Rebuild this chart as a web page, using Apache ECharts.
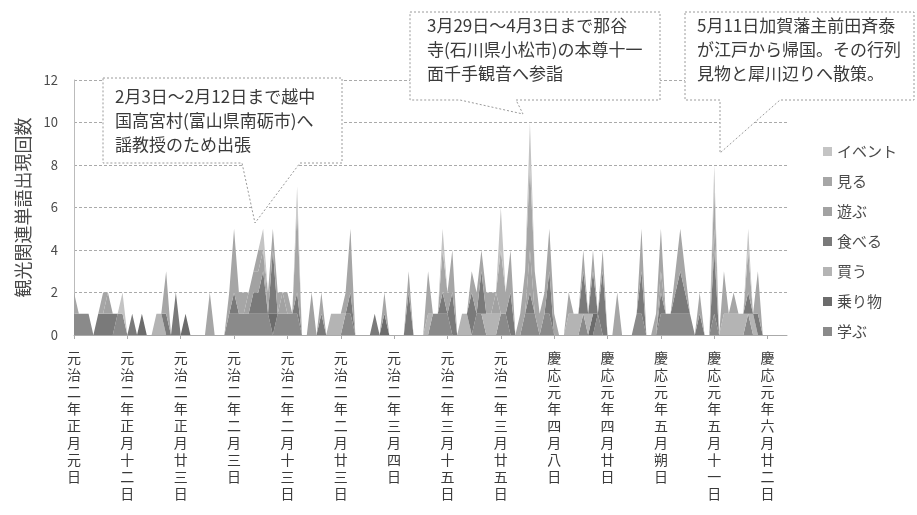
<!DOCTYPE html>
<html>
<head>
<meta charset="utf-8">
<script src="https://cdn.jsdelivr.net/npm/echarts@6/dist/echarts.min.js"></script>
<style>
html,body{margin:0;padding:0;background:#fff;}
#chart{width:917px;height:515px;}
</style>
</head>
<body>
<div id="chart"></div>
<script>
// ---- data ----
const tickLabels = ['元治二年正月元日','元治二年正月十二日','元治二年正月廿三日','元治二年二月三日','元治二年二月十三日','元治二年二月廿三日','元治二年三月四日','元治二年三月十五日','元治二年三月廿五日','慶応元年四月八日','慶応元年四月廿日','慶応元年五月朔日','慶応元年五月十一日','慶応元年六月廿二日'];
const tickStep = 11;
const dayCount = 148;
const categories = Array.from({length: dayCount}, (_, i) => (i % tickStep === 0 && tickLabels[i / tickStep]) ? tickLabels[i / tickStep] : ('第' + (i + 1) + '日'));

const yTicks = [0, 2, 4, 6, 8, 10, 12];
const legendOrder = ['イベント','見る','遊ぶ','食べる','買う','乗り物','学ぶ'];

const manabu = [1,1,1,1,0,0,0,0,0,1, 1,0,0,0,0,0,0,0,0,0, 0,0,0,0,0,0,0,0,0,0, 0,0,1,1,1,1,1,1,1,1,
 1,0,1,1,1,1,1,0,0,0, 0,0,0,0,0,0,1,1,0,0, 0,0,0,0,0,0,0,0,0,0, 0,0,0,0,1,1,1,1,0,0,
 0,0,0,1,1,0,0,0,1,1, 0,0,0,1,1,1,0,1,1,0, 0,0,0,0,0,1,0,0,1,0, 0,0,0,0,0,0,1,1,0,0,
 0,1,1,1,1,1,1,1,0,0, 0,0,1,0,0,0,0,0,0,1, 0,0,0,0,0,0,0,0];
const norimono = [0,0,0,0,0,0,0,0,0,0, 0,0,0,0,1,0,0,0,0,0, 0,0,0,1,0,0,0,0,0,0, 0,0,0,0,0,0,0,0,0,0,
 0,1,0,0,0,0,0,0,0,0, 0,0,0,0,0,0,0,0,0,0, 0,0,0,0,1,0,0,0,0,0, 0,0,0,0,0,0,0,0,0,0,
 0,0,0,0,0,0,0,0,0,0, 0,0,0,0,0,0,0,0,0,0, 0,0,0,0,0,0,0,1,0,0, 0,0,0,0,0,0,0,0,0,0,
 0,0,0,0,0,0,0,0,0,0, 0,0,0,0,0,0,0,0,0,0, 0,0,0,0,0,0,0,0];
const kau = [0,0,0,0,0,0,0,0,0,0, 0,0,0,0,0,0,0,1,1,0, 0,0,0,0,0,0,0,0,0,0, 0,0,0,0,0,0,0,0,0,0,
 0,0,0,0,0,0,0,0,0,0, 0,0,0,1,1,1,0,0,0,0, 0,0,0,0,0,0,0,0,0,0, 0,0,0,1,0,0,0,0,0,0,
 1,1,0,0,0,1,1,1,0,0, 0,0,0,0,0,0,0,0,0,0, 0,0,1,1,1,0,1,0,0,0, 0,0,0,0,0,0,0,0,0,0,
 0,0,0,0,0,0,0,0,0,0, 0,0,0,0,1,1,1,1,1,0, 1,0,0,0,0,0,0,0];
const taberu = [0,0,0,0,0,1,1,1,1,0, 0,0,1,0,0,0,0,0,0,1, 0,2,0,0,0,0,0,0,0,0, 0,0,0,1,0,0,0,1,1,2,
 0,3,0,0,0,0,1,0,0,0, 0,1,0,0,0,0,0,1,0,0, 0,0,1,0,0,0,0,0,0,2, 0,0,0,0,0,0,1,0,2,0,
 0,0,2,0,2,0,0,0,0,0, 2,0,0,0,1,0,0,0,2,0, 0,0,0,0,0,2,0,2,0,3, 0,0,0,0,0,0,0,2,0,0,
 0,1,0,0,1,2,1,0,0,1, 0,0,3,0,0,0,0,0,0,1, 0,1,0,0,0,0,0,0];
const asobu = [0,0,0,0,0,0,0,1,0,0, 0,0,0,0,0,0,0,0,0,0, 0,0,0,0,0,0,0,0,0,0, 0,0,0,0,0,0,1,1,1,1,
 0,0,0,1,0,0,0,0,0,2, 0,0,0,0,0,0,0,0,0,0, 0,0,0,0,0,0,0,0,0,0, 0,0,0,0,0,0,0,1,0,0,
 0,0,0,0,0,0,0,1,0,0, 0,0,0,0,2,0,0,0,0,0, 0,0,0,0,0,0,0,0,0,0, 0,0,0,0,0,0,0,0,0,0,
 0,1,0,0,0,0,0,0,0,0, 0,0,1,0,0,0,0,0,0,0, 0,0,0,0,0,0,0,0];
const miru = [1,0,0,0,0,0,1,0,0,0, 0,0,0,0,0,0,0,0,0,2, 0,0,0,0,0,0,0,0,2,0, 0,0,1,3,1,1,0,0,1,0,
 1,1,1,0,1,0,4,0,0,0, 0,1,0,0,0,0,1,3,0,0, 0,0,0,0,1,0,0,0,0,1, 0,0,0,2,0,0,2,0,2,0,
 0,0,1,1,1,1,1,0,3,1, 2,0,1,2,4,2,1,1,2,1, 0,0,1,0,0,1,0,1,0,1, 0,0,2,0,0,0,0,2,0,0,
 1,2,0,0,1,2,1,0,0,1, 0,0,2,0,2,0,1,0,0,2, 0,2,0,0,0,0,0,0];
const event = [0,0,0,0,0,0,0,0,0,0, 1,0,0,0,0,0,0,0,0,0, 0,0,0,0,0,0,0,0,0,0, 0,0,0,0,0,0,0,0,0,1,
 0,0,0,0,0,0,1,0,0,0, 0,0,0,0,0,0,0,0,0,0, 0,0,0,0,0,0,0,0,0,0, 0,0,0,0,0,0,1,0,0,0,
 0,0,0,0,0,0,0,0,2,0, 0,0,0,0,2,0,0,0,0,0, 0,0,0,0,0,0,0,0,0,0, 0,0,0,0,0,0,0,0,0,0,
 0,0,0,0,0,0,0,0,0,0, 0,0,1,0,0,0,0,0,0,1, 0,0,0,0,0,0,0,0];

const callouts = [
  {text: '2月3日～2月12日まで越中\n国高宮村(富山県南砺市)へ\n謡教授のため出張'},
  {text: '3月29日～4月3日まで那谷\n寺(石川県小松市)の本尊十一\n面千手観音へ参詣'},
  {text: '5月11日加賀藩主前田斉泰\nが江戸から帰国。その行列\n見物と犀川辺りへ散策。'}
];

// ---- chart ----
const FONT = '"Noto Sans CJK JP", "Noto Sans", sans-serif';
const stackOrder = [
  {name: '学ぶ', data: manabu, color: '#8a8a8a'},
  {name: '乗り物', data: norimono, color: '#6c6c6c'},
  {name: '買う', data: kau, color: '#b4b4b4'},
  {name: '食べる', data: taberu, color: '#7a7a7a'},
  {name: '遊ぶ', data: asobu, color: '#a2a2a2'},
  {name: '見る', data: miru, color: '#a6a6a6'},
  {name: 'イベント', data: event, color: '#c4c4c4'}
];

const chart = echarts.init(document.getElementById('chart'), null, {renderer: 'canvas'});

const boxStyle = {fill: '#ffffff', stroke: '#9a9a9a', lineWidth: 1, lineDash: [2, 2]};
const textStyle = (t) => ({text: t, font: '17px ' + FONT, fill: '#3a3a3a', lineHeight: 24});

chart.setOption({
  animation: false,
  backgroundColor: '#ffffff',
  grid: {left: 74, right: 130, top: 80, bottom: 180, containLabel: false},
  legend: {
    orient: 'vertical', left: 818, top: 138,
    data: legendOrder, icon: 'rect', itemWidth: 9, itemHeight: 9, itemGap: 13,
    textStyle: {fontSize: 15, lineHeight: 17, color: '#4a4a4a', fontFamily: FONT}
  },
  xAxis: {
    type: 'category', boundaryGap: false, data: categories,
    axisLine: {lineStyle: {color: '#aaaaaa'}},
    axisTick: {show: true, interval: tickStep - 1, length: 4, lineStyle: {color: '#aaaaaa'}},
    axisLabel: {
      interval: tickStep - 1, margin: 14, fontSize: 14, lineHeight: 17, color: '#3a3a3a', fontFamily: FONT,
      formatter: (v, i) => (i % tickStep === 0 && tickLabels[i / tickStep]) ? tickLabels[i / tickStep].split('').join('\n') : ''
    },
    splitLine: {show: false}
  },
  yAxis: {
    type: 'value', min: yTicks[0], max: yTicks[yTicks.length - 1], interval: yTicks[1] - yTicks[0],
    name: '観光関連単語出現回数', nameLocation: 'middle', nameRotate: 90, nameGap: 42,
    nameTextStyle: {fontSize: 18, color: '#4a4a4a', fontFamily: FONT},
    axisLine: {show: true, lineStyle: {color: '#bbbbbb'}},
    axisTick: {show: false},
    axisLabel: {fontSize: 13, color: '#4a4a4a', margin: 16, fontFamily: FONT},
    splitLine: {lineStyle: {color: '#aaaaaa', type: [3, 2]}}
  },
  series: stackOrder.map(s => ({
    name: s.name, type: 'line', stack: 'total', data: s.data,
    symbol: 'none', showSymbol: false,
    lineStyle: {width: 0},
    itemStyle: {color: s.color},
    areaStyle: {color: s.color, opacity: 1}
  })),
  graphic: [
    {type: 'polygon', z: 100, shape: {points: [[103,78],[342,78],[342,163],[300,163],[255,223],[242,163],[103,163]]}, style: boxStyle},
    {type: 'text', z: 101, left: 115, top: 85, style: textStyle(callouts[0].text)},
    {type: 'polygon', z: 100, shape: {points: [[410,12],[660,12],[660,100],[516,100],[523,114],[460,100],[410,100]]}, style: boxStyle},
    {type: 'text', z: 101, left: 427, top: 14, style: textStyle(callouts[1].text)},
    {type: 'polygon', z: 100, shape: {points: [[685,12],[914,12],[914,100],[780,100],[720,153],[720,100],[685,100]]}, style: boxStyle},
    {type: 'text', z: 101, left: 697, top: 14, style: textStyle(callouts[2].text)}
  ]
});
</script>
</body>
</html>
